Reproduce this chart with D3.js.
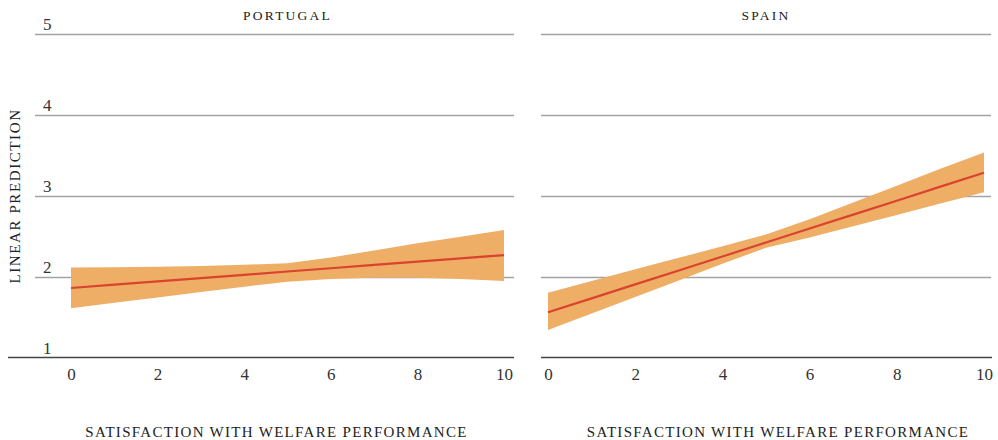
<!DOCTYPE html>
<html><head><meta charset="utf-8">
<script src="https://cdn.jsdelivr.net/npm/d3@7"></script>
<style>
body{margin:0;background:#fff;}
svg{display:block;font-family:"Liberation Serif","DejaVu Serif",serif;}
</style></head>
<body><svg id="c" width="998" height="440"></svg>
<script>
const xValues = [0,1,2,3,4,5,6,7,8,9,10];
const yTicks = [1,2,3,4,5];
const xTicks = [0,2,4,6,8,10];
const countries = ["PORTUGAL","SPAIN"];
const portugalFit   = [1.858,1.899,1.939,1.980,2.021,2.062,2.102,2.143,2.184,2.224,2.265];
const portugalUpper = [2.110,2.115,2.120,2.130,2.145,2.165,2.235,2.320,2.410,2.490,2.575];
const portugalLower = [1.607,1.675,1.740,1.810,1.874,1.935,1.970,1.985,1.985,1.970,1.945];
const spainFit   = [1.558,1.730,1.903,2.075,2.247,2.420,2.592,2.764,2.936,3.109,3.281];
const spainUpper = [1.800,1.945,2.090,2.230,2.375,2.520,2.707,2.914,3.120,3.330,3.530];
const spainLower = [1.340,1.544,1.748,1.952,2.156,2.355,2.480,2.620,2.760,2.900,3.040];
const xTitle = "SATISFACTION WITH WELFARE PERFORMANCE";
const yTitle = "LINEAR PREDICTION";

const svg = d3.select("#c");
const y = d3.scaleLinear().domain([1,5]).range([357.5,33.5]);
const FONT = "Liberation Serif, DejaVu Serif, serif";

const panels = [
  {name:countries[0], fit:portugalFit, up:portugalUpper, lo:portugalLower,
   x:d3.scaleLinear().domain([0,10]).range([71,504]), gx0:35, gx1:514, bx0:8, bx1:514, titleX:276.5, labels:true},
  {name:countries[1], fit:spainFit, up:spainUpper, lo:spainLower,
   x:d3.scaleLinear().domain([0,10]).range([548,984]), gx0:541, gx1:991, bx0:541, bx1:992, titleX:778, labels:false}
];

panels.forEach(p => {
  const g = svg.append("g");
  g.selectAll("line.grid").data(yTicks.filter(t=>t>1)).enter().append("line")
    .attr("x1",p.gx0).attr("x2",p.gx1)
    .attr("y1",d=>Math.round(y(d))+0.5).attr("y2",d=>Math.round(y(d))+0.5)
    .attr("stroke","#a3a3a3").attr("stroke-width",1.6);
  g.append("line").attr("x1",p.bx0).attr("x2",p.bx1)
    .attr("y1",y(1)).attr("y2",y(1)).attr("stroke","#444").attr("stroke-width",1.6);
  if (p.labels) {
    g.selectAll("text.yl").data(yTicks).enter().append("text")
      .attr("x",43).attr("y",d=>y(d)-4)
      .attr("font-size",17).attr("fill","#333").text(d=>d);
  }
  const area = d3.area().x((d,i)=>p.x(xValues[i])).y0((d,i)=>y(p.lo[i])).y1((d,i)=>y(p.up[i]));
  g.append("path").datum(p.up).attr("d",area).attr("fill","#eeae66");
  const line = d3.line().x((d,i)=>p.x(xValues[i])).y(d=>y(d));
  g.append("path").datum(p.fit).attr("d",line).attr("fill","none")
    .attr("stroke","#d9432f").attr("stroke-width",2.2);
  g.append("text").attr("x",(p.x(0)+p.x(10))/2).attr("y",20).attr("text-anchor","middle")
    .attr("font-size",13.5).attr("letter-spacing",2.2).attr("fill","#222").text(p.name);
  const ax = d3.axisBottom(p.x).tickValues(xTicks).tickSize(0).tickPadding(0);
  const axg = g.append("g").attr("transform","translate(0,365)").call(ax)
    .attr("font-family",FONT);
  axg.select(".domain").remove();
  axg.selectAll("text").attr("font-size",17).attr("fill","#333")
    .attr("font-family",FONT).attr("dy","0.9em");
  g.append("text").attr("x",p.titleX).attr("y",437).attr("text-anchor","middle")
    .attr("font-size",15).attr("letter-spacing",1.3).attr("fill","#222").text(xTitle);
});

svg.append("text").attr("transform","translate(20,196) rotate(-90)")
  .attr("text-anchor","middle").attr("font-size",15).attr("letter-spacing",1.6)
  .attr("fill","#222").text(yTitle);
</script></body></html>
